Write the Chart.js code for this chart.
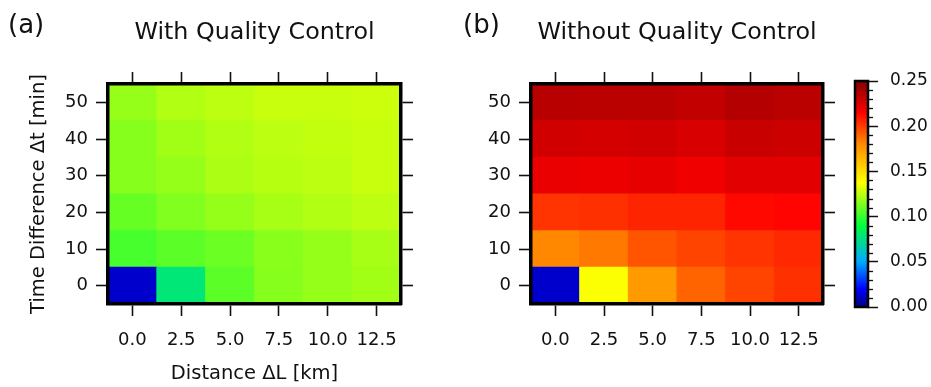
<!DOCTYPE html>
<html>
<head>
<meta charset="utf-8">
<script src="https://cdn.jsdelivr.net/npm/chart.js@4.4.1/dist/chart.umd.min.js"></script>
<style>
  body { margin: 0; background: #fff; }
  #wrap { position: relative; width: 931px; height: 387px; overflow: hidden; background: #fff; }
  #wrap canvas { position: absolute; top: 0; }
</style>
</head>
<body>
<div id="wrap">
  <canvas id="panelA" width="470" height="387" style="left:0px"></canvas>
  <canvas id="panelB" width="380" height="387" style="left:460px"></canvas>
  <canvas id="colorBar" width="91" height="387" style="left:840px"></canvas>
</div>
<script>
// grid of the two maps
const distances = [0, 2.5, 5, 7.5, 10, 12.5]
const distanceLabels = ["0.0", "2.5", "5.0", "7.5", "10.0", "12.5"]
const timeDiffs = [0, 10, 20, 30, 40, 50]
const timeTicks = [0, 10, 20, 30, 40, 50]
const colorTicks = [0, 0.05, 0.1, 0.15, 0.2, 0.25]
const colorMin = 0
const colorMax = 0.25

// rows = time difference (0 .. 50 min), columns = distance (0 .. 12.5 km)
const withQC = [
  [0.012, 0.078, 0.107, 0.115, 0.118, 0.120],
  [0.103, 0.107, 0.110, 0.1155, 0.118, 0.121],
  [0.109, 0.114, 0.118, 0.121, 0.123, 0.125],
  [0.115, 0.118, 0.122, 0.124, 0.125, 0.127],
  [0.115, 0.120, 0.123, 0.125, 0.126, 0.127],
  [0.118, 0.123, 0.125, 0.127, 0.127, 0.128],
]
const withoutQC = [
  [0.012, 0.137, 0.175, 0.190, 0.198, 0.203],
  [0.181, 0.185, 0.194, 0.198, 0.202, 0.205],
  [0.202, 0.203, 0.206, 0.206, 0.213, 0.214],
  [0.221, 0.220, 0.222, 0.219, 0.223, 0.223],
  [0.228, 0.227, 0.228, 0.226, 0.230, 0.229],
  [0.235, 0.234, 0.234, 0.232, 0.236, 0.234],
]

// jet-like palette, position 0..1 along the colour bar
const palette = [
  [0.00, [0, 0, 130]],
  [0.08, [0, 0, 255]],
  [0.20, [0, 170, 255]],
  [0.36, [0, 255, 60]],
  [0.55, [255, 255, 0]],
  [0.72, [255, 140, 0]],
  [0.86, [255, 0, 0]],
  [1.00, [130, 0, 0]],
]

function heatColor(v) {
  const t = Math.min(1, Math.max(0, (v - colorMin) / (colorMax - colorMin)))
  for (let i = 1; i < palette.length; i++) {
    const [t1, c1] = palette[i]
    if (t <= t1) {
      const [t0, c0] = palette[i - 1]
      const f = (t - t0) / (t1 - t0)
      const c = c0.map((a, k) => Math.round(a + (c1[k] - a) * f))
      return `rgb(${c[0]}, ${c[1]}, ${c[2]})`
    }
  }
  const c = palette[palette.length - 1][1]
  return `rgb(${c[0]}, ${c[1]}, ${c[2]})`
}

const family = '"DejaVu Sans", "Liberation Sans", sans-serif'
const tickFont = { family, size: 18 }
const axisFont = { family, size: 19.5 }
const ink = "#111"

const tickGrid = {
  drawOnChartArea: false,
  offset: false,
  tickLength: 12,
  tickWidth: 1.6,
  tickColor: ink,
}
const frame = { width: 3.5, color: "#000", z: 1 }

function panelText(tag, tagX, title) {
  return {
    id: "panelText",
    afterDraw(chart) {
      const { ctx, chartArea } = chart
      ctx.save()
      ctx.fillStyle = ink
      ctx.textBaseline = "alphabetic"
      ctx.textAlign = "left"
      ctx.font = `26px ${family}`
      ctx.fillText(tag, tagX, 33)
      ctx.textAlign = "center"
      ctx.font = `23.8px ${family}`
      ctx.fillText(title, (chartArea.left + chartArea.right) / 2, 39)
      ctx.restore()
    },
  }
}

function makeHeatmap(id, values, cfg) {
  const half = (timeDiffs[1] - timeDiffs[0]) / 2
  const datasets = timeDiffs.map((t, r) => ({
    data: distances.map(() => [t - half, t + half]),
    backgroundColor: values[r].map(heatColor),
    borderWidth: 0,
    inflateAmount: 0.5,
    barPercentage: 1,
    categoryPercentage: 1,
    grouped: false,
  }))

  return new Chart(document.getElementById(id), {
    type: "bar",
    data: { labels: distanceLabels, datasets },
    options: {
      responsive: false,
      animation: false,
      events: [],
      layout: { padding: 0 },
      plugins: { legend: { display: false }, tooltip: { enabled: false } },
      scales: {
        x: {
          type: "category",
          position: "bottom",
          offset: true,
          grid: tickGrid,
          border: frame,
          ticks: { color: ink, font: tickFont, padding: 14, maxRotation: 0, autoSkip: false },
          title: {
            display: cfg.xTitle,
            text: "Distance ΔL [km]",
            color: ink,
            font: axisFont,
            padding: { top: 0, bottom: 1 },
          },
          afterFit: (s) => { s.height = 83 },
        },
        x2: {
          type: "category",
          position: "top",
          labels: distanceLabels,
          offset: true,
          grid: tickGrid,
          border: frame,
          ticks: { display: false },
          afterFit: (s) => { s.height = 84 },
        },
        y: {
          type: "linear",
          position: "left",
          min: timeDiffs[0] - half,
          max: timeDiffs[timeDiffs.length - 1] + half,
          afterBuildTicks: (s) => { s.ticks = timeTicks.map((v) => ({ value: v })) },
          grid: tickGrid,
          border: frame,
          ticks: { color: ink, font: tickFont, padding: 8 },
          title: {
            display: cfg.yTitle,
            text: "Time Difference Δt [min]",
            color: ink,
            font: axisFont,
            padding: { top: 27, bottom: 0 },
          },
          afterFit: (s) => { s.width = cfg.leftWidth },
        },
        y2: {
          type: "linear",
          position: "right",
          min: timeDiffs[0] - half,
          max: timeDiffs[timeDiffs.length - 1] + half,
          afterBuildTicks: (s) => { s.ticks = timeTicks.map((v) => ({ value: v })) },
          grid: tickGrid,
          border: frame,
          ticks: { display: false },
          afterFit: (s) => { s.width = cfg.rightWidth },
        },
      },
    },
    plugins: [panelText(cfg.tag, cfg.tagX, cfg.title)],
  })
}

makeHeatmap("panelA", withQC, {
  tag: "(a)", tagX: 8, title: "With Quality Control",
  xTitle: true, yTitle: true, leftWidth: 108, rightWidth: 69,
})
makeHeatmap("panelB", withoutQC, {
  tag: "(b)", tagX: 3, title: "Without Quality Control",
  xTitle: false, yTitle: false, leftWidth: 71, rightWidth: 17,
})

// colour bar
const colorBarPaint = {
  id: "colorBarPaint",
  beforeDatasetsDraw(chart) {
    const { ctx, chartArea } = chart
    const y = chart.scales.y
    const grad = ctx.createLinearGradient(0, y.getPixelForValue(colorMin), 0, y.getPixelForValue(colorMax))
    palette.forEach(([t, c]) => grad.addColorStop(t, `rgb(${c[0]}, ${c[1]}, ${c[2]})`))
    ctx.save()
    ctx.fillStyle = grad
    ctx.fillRect(chartArea.left, chartArea.top, chartArea.right - chartArea.left, chartArea.bottom - chartArea.top)
    ctx.restore()
  },
  afterDraw(chart) {
    const { ctx, chartArea } = chart
    const y = chart.scales.y
    ctx.save()
    // minor ticks every 0.01
    ctx.strokeStyle = ink
    ctx.lineWidth = 1.3
    for (let k = 1; k < 25; k++) {
      if (k % 5 === 0) continue
      const py = Math.round(y.getPixelForValue(k * 0.01)) + 0.5
      ctx.beginPath()
      ctx.moveTo(chartArea.right, py)
      ctx.lineTo(chartArea.right + 5, py)
      ctx.stroke()
    }
    ctx.lineWidth = 2.5
    ctx.strokeStyle = "#000"
    ctx.strokeRect(chartArea.left, chartArea.top, chartArea.right - chartArea.left, chartArea.bottom - chartArea.top)
    ctx.restore()
  },
}

new Chart(document.getElementById("colorBar"), {
  type: "bar",
  data: { labels: [""], datasets: [] },
  options: {
    responsive: false,
    animation: false,
    events: [],
    layout: { padding: { left: 15, top: 81, bottom: 80, right: 0 } },
    plugins: { legend: { display: false }, tooltip: { enabled: false } },
    scales: {
      x: { display: false },
      y: {
        position: "right",
        min: colorMin,
        max: colorMax,
        afterBuildTicks: (s) => { s.ticks = colorTicks.map((v) => ({ value: v })) },
        grid: { drawOnChartArea: false, tickLength: 10, tickWidth: 1.5, tickColor: ink },
        border: { display: false },
        ticks: { color: ink, font: { family, size: 17 }, padding: 12, callback: (v) => Number(v).toFixed(2) },
        afterFit: (s) => { s.width = 63 },
      },
    },
  },
  plugins: [colorBarPaint],
})
</script>
</body>
</html>
